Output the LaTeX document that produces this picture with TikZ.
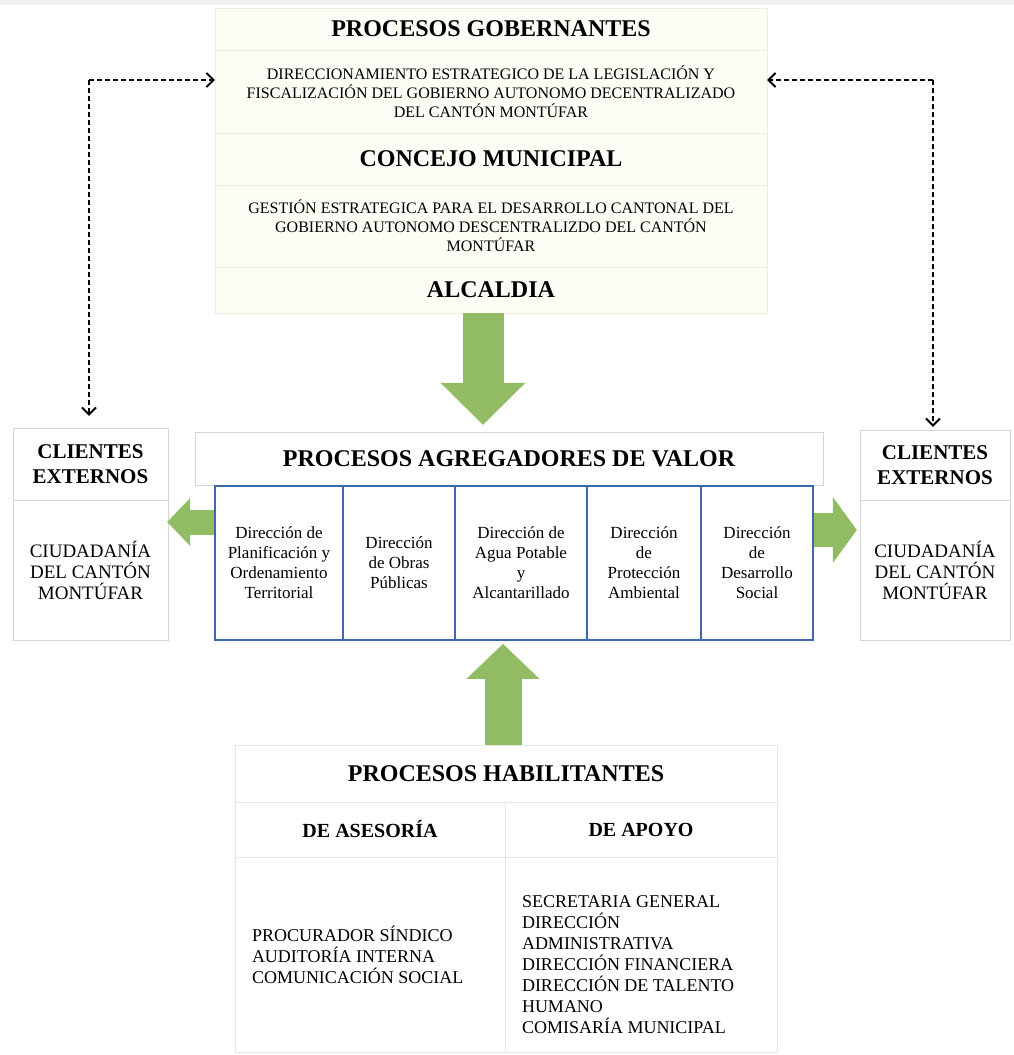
\documentclass[tikz,border=0pt]{standalone}
\usepackage{fontspec}
\setmainfont{Liberation Serif}
\usepackage{tikz}
\usetikzlibrary{arrows.meta}
\definecolor{arrowGreen}{RGB}{146,188,100}
\definecolor{cellBlue}{RGB}{62,104,172}
\definecolor{boxLine}{RGB}{214,214,214}
\definecolor{habLine}{RGB}{230,230,230}
\definecolor{gobFill}{RGB}{253,253,246}
\definecolor{gobLine}{RGB}{238,238,222}
\newcommand{\headFont}[0]{\fontsize{24}{28}\selectfont\bfseries}
\newcommand{\gobFont}[0]{\fontsize{16}{19}\selectfont}
\newcommand{\clientFont}[0]{\fontsize{21}{25}\selectfont\bfseries}
\newcommand{\cityFont}[0]{\fontsize{19}{21}\selectfont}
\newcommand{\cellFont}[0]{\fontsize{17}{20}\selectfont}
\newcommand{\listFont}[0]{\fontsize{18}{21}\selectfont}

\begin{document}
\begin{tikzpicture}[x=1pt, y=-1pt]
  \tikzset{
    gobrow/.style={draw=gobLine, fill=gobFill, minimum width=552pt, inner sep=0pt, align=center},
    clibox/.style={draw=boxLine, minimum width=#1, inner sep=0pt, align=center},
    dircell/.style={draw=cellBlue, line width=1.8pt, minimum width=#1, minimum height=154pt,
      inner sep=0pt, align=center, font=\cellFont},
    habbox/.style={draw=habLine, minimum width=#1, inner sep=0pt, align=center},
    listtext/.style={anchor=west, inner sep=0pt, align=left, font=\listFont},
    dashArrow/.style={line width=1.9pt, dash pattern=on 5pt off 3pt,
      -{Straight Barb[length=7pt, width=14pt]}},
    greenArrow/.style n args={3}{draw=arrowGreen, line width=#1,
      -{Triangle[length=#2, width=#3, line width=0pt]}}
  }
  \useasboundingbox (0,0) rectangle (1014,1055);
  \fill[gray!12] (0,0) rectangle (1014,5);

  % procesos gobernantes
  \node[gobrow, minimum height=42pt, font=\headFont] (gobT) at (491,29) {PROCESOS GOBERNANTES};
  \node[gobrow, minimum height=83pt, font=\gobFont] (gob1) at (491,91.5)
    {DIRECCIONAMIENTO ESTRATEGICO DE LA LEGISLACIÓN Y\\FISCALIZACIÓN DEL GOBIERNO AUTONOMO DECENTRALIZADO\\DEL CANTÓN MONTÚFAR};
  \node[gobrow, minimum height=52pt, font=\headFont] (gobC) at (491,159) {CONCEJO MUNICIPAL};
  \node[gobrow, minimum height=82pt, font=\gobFont] (gob2) at (491,226)
    {GESTIÓN ESTRATEGICA PARA EL DESARROLLO CANTONAL DEL\\GOBIERNO AUTONOMO DESCENTRALIZDO DEL CANTÓN\\MONTÚFAR};
  \node[gobrow, minimum height=46pt, font=\headFont] (alc) at (491,290) {ALCALDIA};

  % clientes externos
  \node[clibox=155pt, minimum height=72pt, font=\clientFont] (cliLh) at (90.5,464) {CLIENTES\\EXTERNOS};
  \node[clibox=155pt, minimum height=140pt, font=\cityFont] (cliLb) at (90.5,570) {CIUDADANÍA\\DEL CANTÓN\\MONTÚFAR};
  \node[clibox=150pt, minimum height=70pt, font=\clientFont] (cliRh) at (935,465) {CLIENTES\\EXTERNOS};
  \node[clibox=150pt, minimum height=140pt, font=\cityFont] (cliRb) at (935,570) {CIUDADANÍA\\DEL CANTÓN\\MONTÚFAR};

  % procesos agregadores de valor
  \node[clibox=628pt, minimum height=53pt, font=\headFont] (agrT) at (509,458.5) {PROCESOS AGREGADORES DE VALOR};
  \node[dircell=128pt] (dir1) at (279,563) {Dirección de\\Planificación y\\Ordenamiento\\Territorial};
  \node[dircell=112pt] (dir2) at (399,563) {Dirección\\de Obras\\Públicas};
  \node[dircell=132pt] (dir3) at (521,563) {Dirección de\\Agua Potable\\y\\Alcantarillado};
  \node[dircell=114pt] (dir4) at (644,563) {Dirección\\de\\Protección\\Ambiental};
  \node[dircell=112pt] (dir5) at (757,563) {Dirección\\de\\Desarrollo\\Social};

  % procesos habilitantes
  \node[habbox=542pt, minimum height=57pt, font=\headFont] (habT) at (506,773.5) {PROCESOS HABILITANTES};
  \node[habbox=270pt, minimum height=55pt, font=\fontsize{20}{24}\selectfont\bfseries] (habA) at (370,829.5) {DE ASESORÍA};
  \node[habbox=272pt, minimum height=55pt, font=\fontsize{20}{24}\selectfont\bfseries] (habB) at (641,829.5) {DE APOYO};
  \node[habbox=270pt, minimum height=195pt] (habAc) at (370,954.5) {};
  \node[habbox=272pt, minimum height=195pt] (habBc) at (641,954.5) {};
  \node[listtext] (asesoria) at ([xshift=17pt]habAc.west)
    {PROCURADOR SÍNDICO\\AUDITORÍA INTERNA\\COMUNICACIÓN SOCIAL};
  \node[listtext] (apoyo) at ([xshift=17pt,yshift=-10pt]habBc.west)
    {SECRETARIA GENERAL\\DIRECCIÓN\\ADMINISTRATIVA\\DIRECCIÓN FINANCIERA\\DIRECCIÓN DE TALENTO\\HUMANO\\COMISARÍA MUNICIPAL};

  % dashed links to the clients
  \coordinate (cornL) at (89,80);
  \coordinate (cornR) at (933,80);
  \draw[dashArrow] (cornL) -- (cornL -| gob1.west);
  \draw[dashArrow] (cornL) -- ([yshift=12pt]cornL |- cliLh.north);
  \draw[dashArrow] (cornR) -- (cornR -| gob1.east);
  \draw[dashArrow] (cornR) -- ([yshift=3pt]cornR |- cliRh.north);

  % green arrows
  \draw[greenArrow={41pt}{42pt}{85pt}] ([xshift=-8pt]alc.south) -- ([xshift=-26pt,yshift=7pt]agrT.north);
  \draw[greenArrow={37pt}{35pt}{73pt}] ([xshift=-3pt]habT.north) -- ([xshift=-18pt,yshift=-3pt]dir3.south);
  \draw[greenArrow={25pt}{23pt}{48pt}] ([yshift=41pt]dir1.west) -- ([xshift=-1pt,yshift=48pt]cliLb.east);
  \draw[greenArrow={34pt}{24pt}{66pt}] ([yshift=33pt]dir5.east) -- ([xshift=-3pt,yshift=40pt]cliRb.west);
\end{tikzpicture}
\end{document}
